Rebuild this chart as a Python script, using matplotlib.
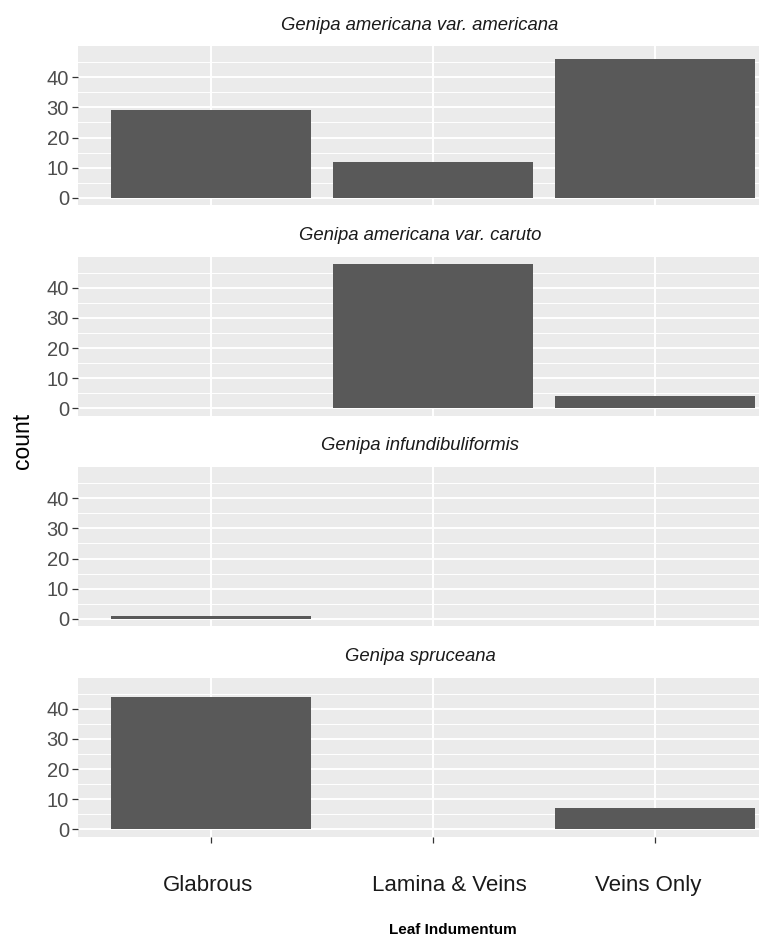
import matplotlib
matplotlib.use('Agg')
import matplotlib.pyplot as plt
import matplotlib.transforms as mtransforms
import numpy as np

# leaf indumentum counts per taxon
categories = ['Glabrous', 'Lamina & Veins', 'Veins Only']
species = ['Genipa americana var. americana',
           'Genipa americana var. caruto',
           'Genipa infundibuliformis',
           'Genipa spruceana']
americana = [29, 12, 46]
caruto = [0, 48, 4]
infundibuliformis = [1, 0, 0]
spruceana = [44, 0, 7]
counts = [americana, caruto, infundibuliformis, spruceana]
yticks = [0, 10, 20, 30, 40]
yminor = [5, 15, 25, 35, 45]

plt.rcParams['font.family'] = ['Liberation Sans', 'DejaVu Sans']

W, H = 759, 941
fig = plt.figure(figsize=(W / 100, H / 100), dpi=100)

x = np.arange(1, len(categories) + 1)
ymax = max(max(c) for c in counts)

# panel geometry in pixels (the right edge runs past the figure, as in the source)
left_px, right_px = 78, 788
top0, step, ph = 46, 210.5, 159
label_shift = [-3, 16, -7]  # x label nudges in px

for k, (name, vals) in enumerate(zip(species, counts)):
    top = top0 + k * step
    ax = fig.add_axes([left_px / W, 1 - (top + ph) / H,
                       (right_px - left_px) / W, ph / H])
    ax.set_facecolor('#EBEBEB')
    ax.bar(x, vals, width=0.9, color='#595959', linewidth=0, zorder=2)
    ax.set_xlim(0.4, len(categories) + 0.6)
    ax.set_ylim(-0.05 * ymax, 1.05 * ymax)
    ax.set_yticks(yticks)
    ax.set_yticks(yminor, minor=True)
    ax.set_xticks(x)
    ax.grid(which='major', color='white', linewidth=1.4, zorder=0)
    ax.grid(which='minor', axis='y', color='white', linewidth=0.7, zorder=0)
    ax.set_axisbelow(True)
    for s in ax.spines.values():
        s.set_visible(False)
    ax.tick_params(axis='y', which='major', length=4.5, width=0.9,
                   color='#333333', labelcolor='#4D4D4D', labelsize=14.5, pad=2)
    ax.tick_params(which='minor', length=0)
    if k < len(species) - 1:
        ax.tick_params(axis='x', length=0, labelbottom=False)
    else:
        ax.set_xticklabels(categories)
        ax.tick_params(axis='x', length=4, width=0.9, color='#333333',
                       labelcolor='#1A1A1A', labelsize=16, pad=24)
        for lab, dx in zip(ax.get_xticklabels(), label_shift):
            lab.set_transform(lab.get_transform() +
                              mtransforms.ScaledTranslation(dx / 100, 0, fig.dpi_scale_trans))

    # facet strip label (white strip background)
    fig.text(420 / W, 1 - (top - 21) / H, name, style='italic', fontsize=13.3,
             color='#1A1A1A', ha='center', va='center')

fig.text(22 / W, 1 - 441 / H, 'count', rotation=90, fontsize=16.5,
         ha='center', va='center', color='black')
fig.text(453 / W, 1 - 930 / H, 'Leaf Indumentum', fontweight='bold',
         fontsize=11, ha='center', va='center', color='black')

fig.savefig('out.png', dpi=100)
